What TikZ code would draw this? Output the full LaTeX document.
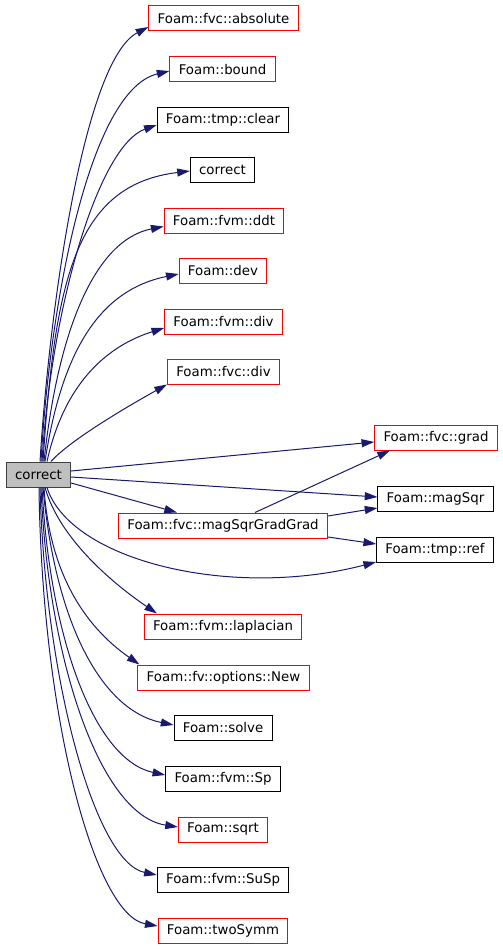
\documentclass[tikz,border=0pt]{standalone}
\usepackage{fontspec}
\setmainfont{DejaVu Sans}
\usepackage{tikz}
\usetikzlibrary{arrows.meta,calc}

\definecolor{edgeblue}{HTML}{191970}
\definecolor{rootgray}{HTML}{BFBFBF}

\begin{document}
\begin{tikzpicture}[x=0.75pt,y=-0.75pt,font=\fontsize{10}{12}\selectfont,
  fn/.style={draw,line width=0.75pt,minimum height=18.75pt,inner xsep=6.6pt,inner ysep=0pt},
  undoc/.style={fn,draw=red},
  call/.style={-{Triangle[length=9.5pt,width=6pt]},edgeblue,line width=0.75pt}]
\useasboundingbox (0,0) rectangle (503,949);
\node[fn,fill=rootgray,draw=black!75] (fnRoot) at (38.5,474.5) {correct};
\node[undoc] (fnAbs) at (223.5,18.5) {Foam::fvc::absolute};
\node[undoc] (fnBound) at (222.5,69.5) {Foam::bound};
\node[fn] (fnClear) at (223,119.5) {Foam::tmp::clear};
\node[fn] (fnCorr) at (222.5,169.5) {correct};
\node[undoc] (fnDdt) at (224,220.5) {Foam::fvm::ddt};
\node[undoc] (fnDev) at (223,270.5) {Foam::dev};
\node[undoc] (fnFvmDiv) at (223.5,321.5) {Foam::fvm::div};
\node[undoc] (fnFvcDiv) at (223.5,371.5) {Foam::fvc::div};
\node[undoc] (fnGrad) at (436,437.5) {Foam::fvc::grad};
\node[fn] (fnMagSqr) at (435.5,499) {Foam::magSqr};
\node[fn] (fnRef) at (435,550) {Foam::tmp::ref};
\node[undoc] (fnMsgg) at (223,525.5) {Foam::fvc::magSqrGradGrad};
\node[undoc] (fnLapl) at (223,626.5) {Foam::fvm::laplacian};
\node[undoc] (fnNew) at (223.5,677.5) {Foam::fv::options::New};
\node[fn] (fnSolve) at (223,727.5) {Foam::solve};
\node[fn] (fnSp) at (223,778.5) {Foam::fvm::Sp};
\node[undoc] (fnSqrt) at (223,829.5) {Foam::sqrt};
\node[fn] (fnSuSp) at (223,879.5) {Foam::fvm::SuSp};
\node[undoc] (fnTwoSymm) at (223,930.5) {Foam::twoSymm};
% calls going up
\draw[call] ($(fnRoot.north)+(1.5,0)$) .. controls (50,300) and (85,60) .. ($(fnAbs.west)+(0,8.5)$);
\draw[call] ($(fnRoot.north)+(2.5,0)$) .. controls (50,300) and (90,90) .. ($(fnBound.west)+(0,1.5)$);
\draw[call] ($(fnRoot.north)+(3.5,0)$) .. controls (52,300) and (100,145) .. ($(fnClear.west)+(0,5.5)$);
\draw[call] ($(fnRoot.north)+(4.5,0)$) .. controls (55,280) and (75,185) .. ($(fnCorr.west)+(0,1.5)$);
\draw[call] ($(fnRoot.north)+(5.5,0)$) .. controls (58,330) and (95,240) .. ($(fnDdt.west)+(0,6)$);
\draw[call] ($(fnRoot.north)+(6.5,0)$) .. controls (62,350) and (100,290) .. ($(fnDev.west)+(0,3.5)$);
\draw[call] ($(fnRoot.north)+(8.5,0)$) .. controls (65,380) and (110,345) .. ($(fnFvmDiv.west)+(0,6.5)$);
\draw[call] ($(fnRoot.north)+(12.5,0)$) .. controls (70,440) and (130,405) .. (fnFvcDiv.south west);
% calls to the right
\draw[call] ($(fnRoot.east)+(0,-3.5)$) -- ($(fnGrad.west)+(0,4.5)$);
\draw[call] ($(fnRoot.east)+(0,2.5)$) -- ($(fnMagSqr.west)+(0,-2)$);
\draw[call] ($(fnRoot.east)+(0,8.5)$) -- ($(fnMsgg.north)+(-46,0)$);
\draw[call] ($(fnRoot.south)+(8.5,0)$) .. controls (70,560) and (230,600) .. ($(fnRef.west)+(0,12)$);
\draw[call] ($(fnMsgg.north)+(32,0)$) -- ($(fnGrad.south)+(-46,0)$);
\draw[call] ($(fnMsgg.east)+(0,-9.5)$) -- ($(fnMagSqr.west)+(0,9)$);
\draw[call] ($(fnMsgg.east)+(0,11.5)$) -- ($(fnRef.west)+(0,-6)$);
% calls going down
\draw[call] ($(fnRoot.south)+(6.5,0)$) .. controls (60,540) and (115,585) .. ($(fnLapl.north)+(-66,0)$);
\draw[call] ($(fnRoot.south)+(5.5,0)$) .. controls (50,580) and (90,630) .. ($(fnNew.north west)+(2,0)$);
\draw[call] ($(fnRoot.south)+(4.5,0)$) .. controls (55,620) and (100,710) .. ($(fnSolve.west)+(0,-2.5)$);
\draw[call] ($(fnRoot.south)+(3.5,0)$) .. controls (50,640) and (95,760) .. ($(fnSp.west)+(0,-3.5)$);
\draw[call] ($(fnRoot.south)+(2.5,0)$) .. controls (48,660) and (100,815) .. ($(fnSqrt.west)+(0,-2.5)$);
\draw[call] ($(fnRoot.south)+(1.5,0)$) .. controls (45,680) and (95,862) .. ($(fnSuSp.west)+(0,-4.5)$);
\draw[call] ($(fnRoot.south)+(0.5,0)$) .. controls (42,720) and (95,915) .. ($(fnTwoSymm.west)+(0,-4.5)$);
\end{tikzpicture}
\end{document}
